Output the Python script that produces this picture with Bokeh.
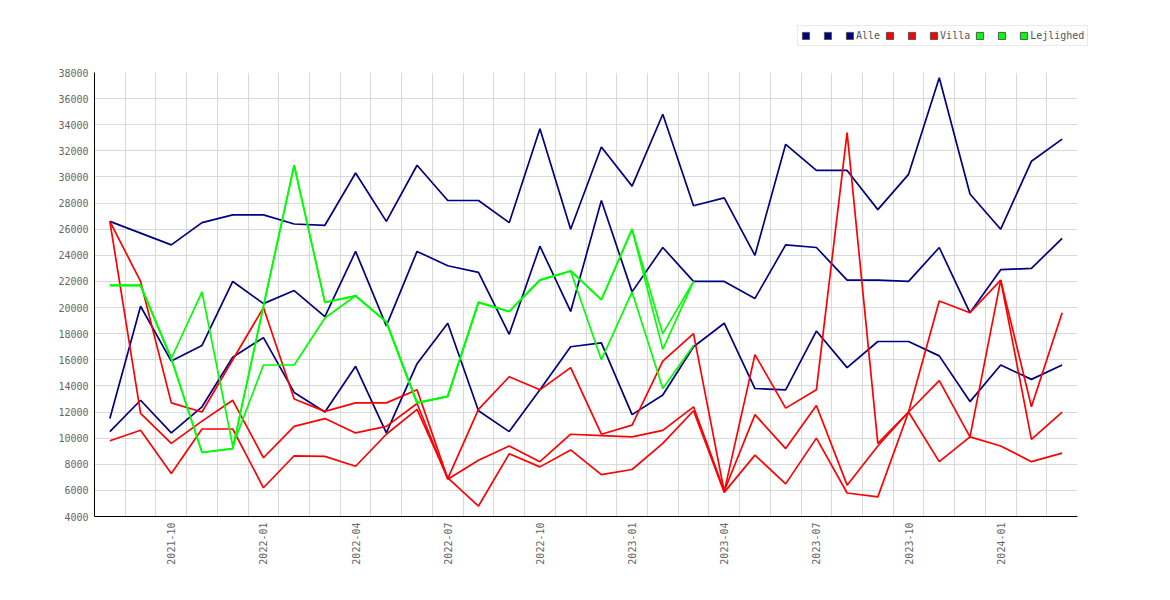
import math
from bokeh.plotting import figure
from bokeh.layouts import column
from bokeh.models import (ColumnDataSource, FixedTicker, Legend, LegendItem,
                          Range1d)
from bokeh.embed import file_html
from bokeh.resources import INLINE

NaN = float("nan")

months = ["2021-08", "2021-09", "2021-10", "2021-11", "2021-12",
          "2022-01", "2022-02", "2022-03", "2022-04", "2022-05", "2022-06",
          "2022-07", "2022-08", "2022-09", "2022-10", "2022-11", "2022-12",
          "2023-01", "2023-02", "2023-03", "2023-04", "2023-05", "2023-06",
          "2023-07", "2023-08", "2023-09", "2023-10", "2023-11", "2023-12",
          "2024-01", "2024-02", "2024-03"]
tick_months = ["2021-10", "2022-01", "2022-04", "2022-07", "2022-10",
               "2023-01", "2023-04", "2023-07", "2023-10", "2024-01"]
y_ticks = [4000, 6000, 8000, 10000, 12000, 14000, 16000, 18000, 20000,
           22000, 24000, 26000, 28000, 30000, 32000, 34000, 36000, 38000]

alle_1 = [26600, 25700, 24800, 26500, 27100, 27100, 26400, 26300, 30300, 26600,
          30900, 28200, 28200, 26500, 33700, 26000, 32300, 29300, 34800, 27800,
          28400, 24000, 32500, 30500, 30500, 27500, 30200, 37600, 28700, 26000,
          31200, 32900]
alle_2 = [11500, 20100, 15900, 17100, 22000, 20300, 21300, 19300, 24300, 18600,
          24300, 23200, 22700, 17950, 24700, 19700, 28200, 21200, 24600, 22000,
          22000, 20700, 24800, 24600, 22100, 22100, 22000, 24600, 19600, 22900,
          23000, 25300]
alle_3 = [10500, 12900, 10400, 12400, 16200, 17700, 13500, 12000, 15500, 10400,
          15700, 18800, 12100, 10500, 13700, 17000, 17300, 11800, 13300, 17000,
          18800, 13800, 13700, 18200, 15400, 17400, 17400, 16300, 12800, 15600,
          14500, 15600]

villa_1 = [26600, 22000, 12700, 12000, 16000, 20000, 13000, 12050, 12700, 12700,
           13700, 6900, 12200, 14700, 13700, 15400, 10300, 11000, 15900, 18000,
           5900, 16400, 12300, 13700, 33400, 9600, 12000, 14400, 10100, 9400,
           8200, 8850]
villa_2 = [26600, 11900, 9600, 11300, 12900, 8500, 10900, 11500, 10400, 10900,
           12650, 6850, 8300, 9400, 8200, 10300, 10200, 10100, 10600, 12400,
           5950, 11800, 9200, 12500, 6400, 9400, 12000, 20500, 19600, 22100,
           12400, 19600]
villa_3 = [9800, 10600, 7300, 10700, 10700, 6200, 8650, 8600, 7850, 10300,
           12200, 6950, 4800, 8800, 7800, 9100, 7200, 7600, 9600, 12100,
           5850, 8700, 6500, 10000, 5800, 5500, 12000, 8200, 10100, 22100,
           9900, 12000]

lejl_1 = [21700, 21700, 16100, 8900, 9200, 20100, 30900, 20400, 20900, 18900,
          12700, 13200, 20400, 19700, 22100, 22800, 20600, 26000, 18000, 22000,
          NaN, NaN, NaN, NaN, NaN, NaN, NaN, NaN, NaN, NaN, NaN, NaN]
lejl_2 = [21700, 21700, 16100, 8900, 9200, 20100, 30900, 20400, 20900, 18900,
          12700, 13200, 20400, 19700, 22100, 22800, 20600, 26000, 16800, 22000,
          NaN, NaN, NaN, NaN, NaN, NaN, NaN, NaN, NaN, NaN, NaN, NaN]
lejl_3 = [21700, 21700, 16100, 21200, 9400, 15600, 15600, 19200, 20900, 18900,
          12700, 13200, 20400, 19700, 22100, 22800, 16000, 21200, 13800, 17100,
          NaN, NaN, NaN, NaN, NaN, NaN, NaN, NaN, NaN, NaN, NaN, NaN]

groups = [
    ("Alle", "#000080", [alle_1, alle_2, alle_3]),
    ("Villa", "#ff0000", [villa_1, villa_2, villa_3]),
    ("Lejlighed", "#00ff00", [lejl_1, lejl_2, lejl_3]),
]

idx = list(range(len(months)))
data = {"x": idx}
for name, _, series in groups:
    for k, s in enumerate(series):
        data[f"{name}_{k}"] = s
source = ColumnDataSource(data)

FONT = "DejaVu Sans Mono"

W = 1160
LEG_H = 64                     # strip holding the legend, above the chart
LEFT, TOP, FW, FH = 94, 72, 983, 444
H = 590 - LEG_H

# ---------------- main chart ----------------
p = figure(width=W, height=H,
           x_range=Range1d(-0.5, len(months) - 0.5),
           y_range=Range1d(y_ticks[0], y_ticks[-1]),
           output_backend="svg", toolbar_location=None,
           min_border_left=LEFT, min_border_right=W - LEFT - FW,
           min_border_top=TOP - LEG_H, min_border_bottom=H - (TOP - LEG_H) - FH)
p.outline_line_color = None
p.background_fill_color = "white"
p.border_fill_color = "white"

p.xaxis.ticker = FixedTicker(ticks=[months.index(m) for m in tick_months])
p.xaxis.major_label_overrides = {months.index(m): m for m in tick_months}
p.xaxis.major_label_orientation = math.pi / 2
p.yaxis.ticker = FixedTicker(ticks=y_ticks)
p.yaxis.formatter.use_scientific = False
for ax in (p.xaxis[0], p.yaxis[0]):
    ax.major_tick_in = 0
    ax.major_tick_out = 0
    ax.minor_tick_in = 0
    ax.minor_tick_out = 0
    ax.axis_line_color = "black"
    ax.axis_line_width = 1
    ax.major_label_text_font = FONT
    ax.major_label_text_font_size = "10px"
    ax.major_label_text_color = "#666666"
    ax.major_label_standoff = 6

# vertical grid lines at the month boundaries
p.xgrid.ticker = FixedTicker(ticks=[i + 0.5 for i in idx])
p.xgrid.grid_line_color = "#d9d9d9"
p.ygrid.grid_line_color = "#d9d9d9"
p.xgrid.grid_line_width = 1
p.ygrid.grid_line_width = 1

for name, color, series in groups:
    for k in range(len(series)):
        p.line(x="x", y=f"{name}_{k}", source=source, line_color=color,
               line_width=1.7)

# ---------------- legend strip ----------------
lg = figure(width=W, height=LEG_H, x_range=Range1d(0, 1), y_range=Range1d(0, 1),
            output_backend="svg", toolbar_location=None,
            x_axis_location=None, y_axis_location=None,
            min_border=0, min_border_left=0, min_border_right=0,
            min_border_top=0, min_border_bottom=0)
lg.frame_align = False
p.frame_align = False
lg.grid.visible = False
lg.outline_line_color = None
lg.border_fill_color = "white"
lg.background_fill_color = "white"

items = []
for name, color, series in groups:
    for k in range(len(series)):
        # legend swatch only: a single undrawable (NaN) quad
        proxy = lg.quad(left=[NaN], right=[NaN], top=[NaN], bottom=[NaN],
                        fill_color=color, line_color="#555555", line_width=1)
        label = name if k == len(series) - 1 else " "
        items.append(LegendItem(label=label, renderers=[proxy]))

legend = Legend(items=items, orientation="horizontal",
                location=(797, LEG_H - 46),
                glyph_width=9, glyph_height=9, label_standoff=2,
                spacing=5, padding=3, margin=0,
                label_height=13, label_width=6,
                label_text_font=FONT, label_text_font_size="10px",
                label_text_color="#555555",
                border_line_color="#d6d6d6", border_line_width=1,
                background_fill_color="white", background_fill_alpha=1)
lg.add_layout(legend, "center")

page = column(lg, p, spacing=0)
open("out.html", "w").write(file_html(page, INLINE))
